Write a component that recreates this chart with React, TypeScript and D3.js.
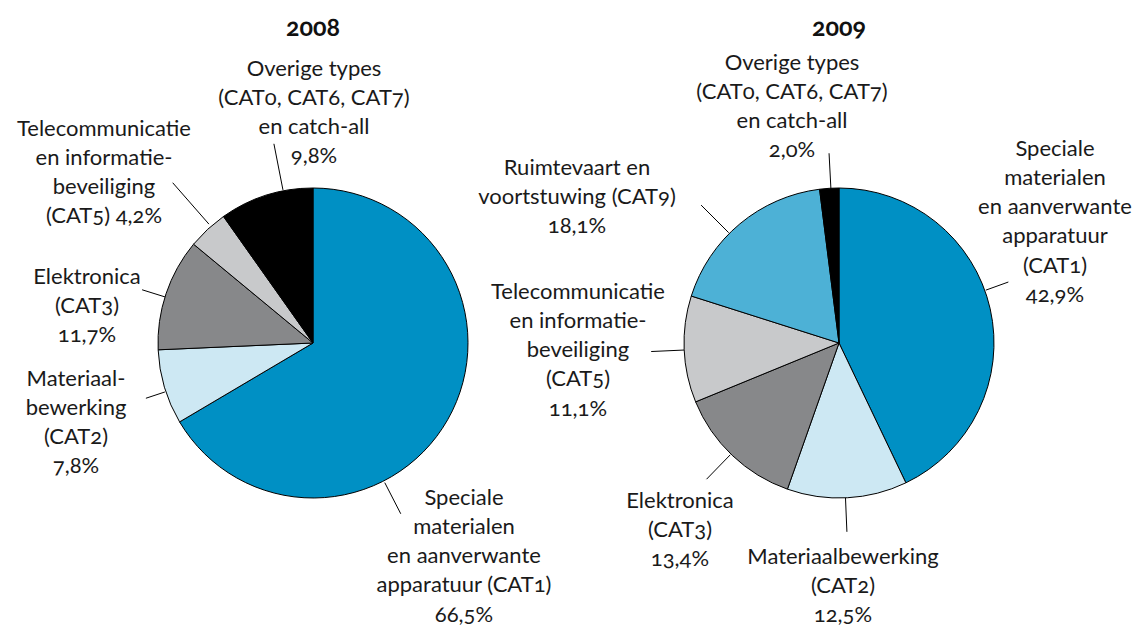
import React from "react";
import * as d3 from "d3";

// ---- data ----
const years = ["2008", "2009"];
const categories2008 = ["CAT1", "CAT2", "CAT3", "CAT5", "OVERIG"];
const values2008 = [66.5, 7.8, 11.7, 4.2, 9.8];
const categories2009 = ["CAT1", "CAT2", "CAT3", "CAT5", "CAT9", "OVERIG"];
const values2009 = [42.9, 12.5, 13.4, 11.1, 18.1, 2.0];

// label texts ({v} = value)
const labels2008: string[][] = [
  ["Speciale", "materialen", "en aanverwante", "apparatuur (CAT1)", "{v}"],
  ["Materiaal-", "bewerking", "(CAT2)", "{v}"],
  ["Elektronica", "(CAT3)", "{v}"],
  ["Telecommunicatie", "en informatie-", "beveiliging", "(CAT5) {v}"],
  ["Overige types", "(CAT0, CAT6, CAT7)", "en catch-all", "{v}"],
];
const labels2009: string[][] = [
  ["Speciale", "materialen", "en aanverwante", "apparatuur", "(CAT1)", "{v}"],
  ["Materiaalbewerking", "(CAT2)", "{v}"],
  ["Elektronica", "(CAT3)", "{v}"],
  ["Telecommunicatie", "en informatie-", "beveiliging", "(CAT5)", "{v}"],
  ["Ruimtevaart en", "voortstuwing (CAT9)", "{v}"],
  ["Overige types", "(CAT0, CAT6, CAT7)", "en catch-all", "{v}"],
];

// ---- styles / layout ----
const colorMap: Record<string, string> = {
  CAT1: "#0090c4",
  CAT2: "#cde8f3",
  CAT3: "#87888a",
  CAT5: "#c8c9cb",
  CAT9: "#4db1d6",
  OVERIG: "#000000",
};
const R = 155;
const centers = [
  { x: 313, y: 343 },
  { x: 839, y: 343 },
];
// label block: center x, first line center y
const labelPos2008 = [
  { x: 464, y: 497 },
  { x: 76, y: 378 },
  { x: 87, y: 276 },
  { x: 104, y: 128 },
  { x: 314, y: 68 },
];
const labelPos2009 = [
  { x: 1055, y: 148 },
  { x: 843, y: 556 },
  { x: 680, y: 500 },
  { x: 578, y: 291 },
  { x: 577, y: 167 },
  { x: 792, y: 62 },
];
// leader: angle (deg, clockwise from top), inner r, outer r
const leaders2008 = [
  { a: 152.8, r0: 157, r1: 192 },
  { a: 251.7, r0: 156, r1: 176 },
  { a: 287.3, r0: 155, r1: 179 },
  { a: 318.8, r0: 158, r1: 213 },
  { a: 348.9, r0: 156, r1: 203 },
];
const leaders2009 = [
  { a: 70.2, r0: 156, r1: 180 },
  { a: 177.6, r0: 155, r1: 189 },
  { a: 224.2, r0: 156, r1: 190 },
  { a: 267.4, r0: 155, r1: 188 },
  { a: 315, r0: 156, r1: 195 },
  { a: 357, r0: 155, r1: 190 },
];
const FONT = "Lato, 'Open Sans', sans-serif";
const FS = 22;
const LH = 29.3;

const fmt = (v: number) => d3.format(".1f")(v).replace(".", ",") + "%";

function Pie({ idx, cats, vals, labels, lpos, leaders }: any) {
  const c = centers[idx];
  const pie = d3.pie<number>().sort(null).value((d) => d);
  const arcs = pie(vals);
  const arc = d3.arc<d3.PieArcDatum<number>>().innerRadius(0).outerRadius(R);
  const pt = (a: number, r: number) => {
    const t = (a * Math.PI) / 180;
    return [c.x + r * Math.sin(t), c.y - r * Math.cos(t)];
  };
  return (
    <g>
      <text
        x={c.x}
        y={36}
        textAnchor="middle"
        fontFamily={FONT}
        fontWeight={700}
        fontSize={25}
        fill="#111"
        style={{ fontVariantNumeric: "oldstyle-nums" }}
      >
        {years[idx]}
      </text>
      <g transform={`translate(${c.x},${c.y})`}>
        {arcs.map((a, i) => (
          <path
            key={i}
            d={arc(a) || ""}
            fill={colorMap[cats[i]]}
            stroke="#000"
            strokeWidth={1}
            strokeLinejoin="round"
          />
        ))}
      </g>
      {leaders.map((l: any, i: number) => {
        const [x0, y0] = pt(l.a, l.r0);
        const [x1, y1] = pt(l.a, l.r1);
        return <line key={i} x1={x0} y1={y0} x2={x1} y2={y1} stroke="#000" strokeWidth={1} />;
      })}
      {labels.map((lines: string[], i: number) => (
        <text
          key={i}
          textAnchor="middle"
          fontFamily={FONT}
          fontSize={FS}
          fontWeight={400}
          fill="#1a1a1a"
          style={{ fontVariantNumeric: "oldstyle-nums" }}
        >
          {lines.map((ln, j) => (
            <tspan key={j} x={lpos[i].x} y={lpos[i].y + j * LH + 7.5}>
              {ln.replace("{v}", fmt(vals[i]))}
            </tspan>
          ))}
        </text>
      ))}
    </g>
  );
}

export default function App() {
  return (
    <svg width={1141} height={626} style={{ display: "block", position: "absolute", left: 0, top: 0, background: "#fff" }}>
      <rect width={1141} height={626} fill="#fff" />
      <Pie idx={0} cats={categories2008} vals={values2008} labels={labels2008} lpos={labelPos2008} leaders={leaders2008} />
      <Pie idx={1} cats={categories2009} vals={values2009} labels={labels2009} lpos={labelPos2009} leaders={leaders2009} />
    </svg>
  );
}
